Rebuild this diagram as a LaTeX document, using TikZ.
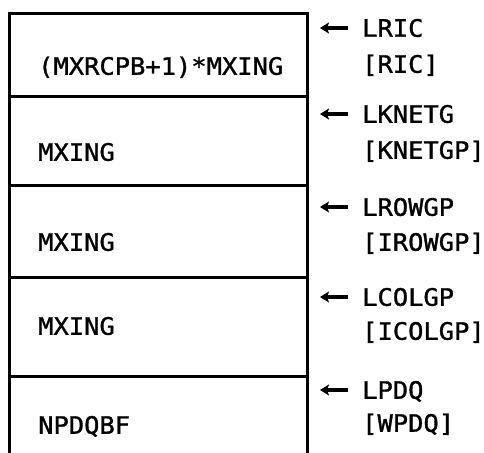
\documentclass[tikz,border=0pt]{standalone}
\usepackage{fontspec}
\newfontfamily\labelmono[FakeStretch=1.06,FakeBold=1.3]{DejaVu Sans Mono}
\usetikzlibrary{arrows.meta}
\tikzset{
  boxline/.style={line width=3pt, line cap=rect},
  celltext/.style={anchor=west, inner sep=0pt, font=\labelmono\fontsize{24pt}{24pt}\selectfont, text height=17.5pt, text depth=0pt},
  sidetext/.style={celltext},
  ptr/.style={line width=3.4pt, -{Stealth[length=9pt,width=11pt,inset=2pt]}, shorten >=13pt, shorten <=14pt}
}
\begin{document}
\begin{tikzpicture}[x=1pt,y=-1pt]
\useasboundingbox (0,0) rectangle (484,452);
% frame of the stack
\draw[boxline] (9,452) -- (9,14) -- (307,14) -- (307,452);
\draw[boxline] (9,96) -- (307,96);
\draw[boxline] (9,185) -- (307,185);
\draw[boxline] (9,277) -- (307,277);
\draw[boxline] (9,376) -- (307,376);
% cell texts
\node[celltext] (t1) at (38,66) {(MXRCPB+1)*MXING};
\node[celltext] (t2) at (38,152) {MXING};
\node[celltext] (t3) at (38,242) {MXING};
\node[celltext] (t4) at (38,326) {MXING};
\node[celltext] (t5) at (38,425) {NPDQBF};
% side labels
\node[sidetext] (l1) at (362,28) {LRIC};
\node[sidetext] (m1) at (362,64) {[RIC]};
\node[sidetext] (l2) at (362,114) {LKNETG};
\node[sidetext] (m2) at (362,150) {[KNETGP]};
\node[sidetext] (l3) at (362,207) {LROWGP};
\node[sidetext] (m3) at (362,242) {[IROWGP]};
\node[sidetext] (l4) at (362,297) {LCOLGP};
\node[sidetext] (m4) at (362,331) {[ICOLGP]};
\node[sidetext] (l5) at (362,390) {LPDQ};
\node[sidetext] (m5) at (362,423) {[WPDQ]};
% pointer targets on the right edge
\coordinate (p1) at (307,28);
\coordinate (p2) at (307,114);
\coordinate (p3) at (307,207);
\coordinate (p4) at (307,297);
\coordinate (p5) at (307,390);
\draw[ptr] (l1.west) -- (p1);
\draw[ptr] (l2.west) -- (p2);
\draw[ptr] (l3.west) -- (p3);
\draw[ptr] (l4.west) -- (p4);
\draw[ptr] (l5.west) -- (p5);
\end{tikzpicture}
\end{document}
